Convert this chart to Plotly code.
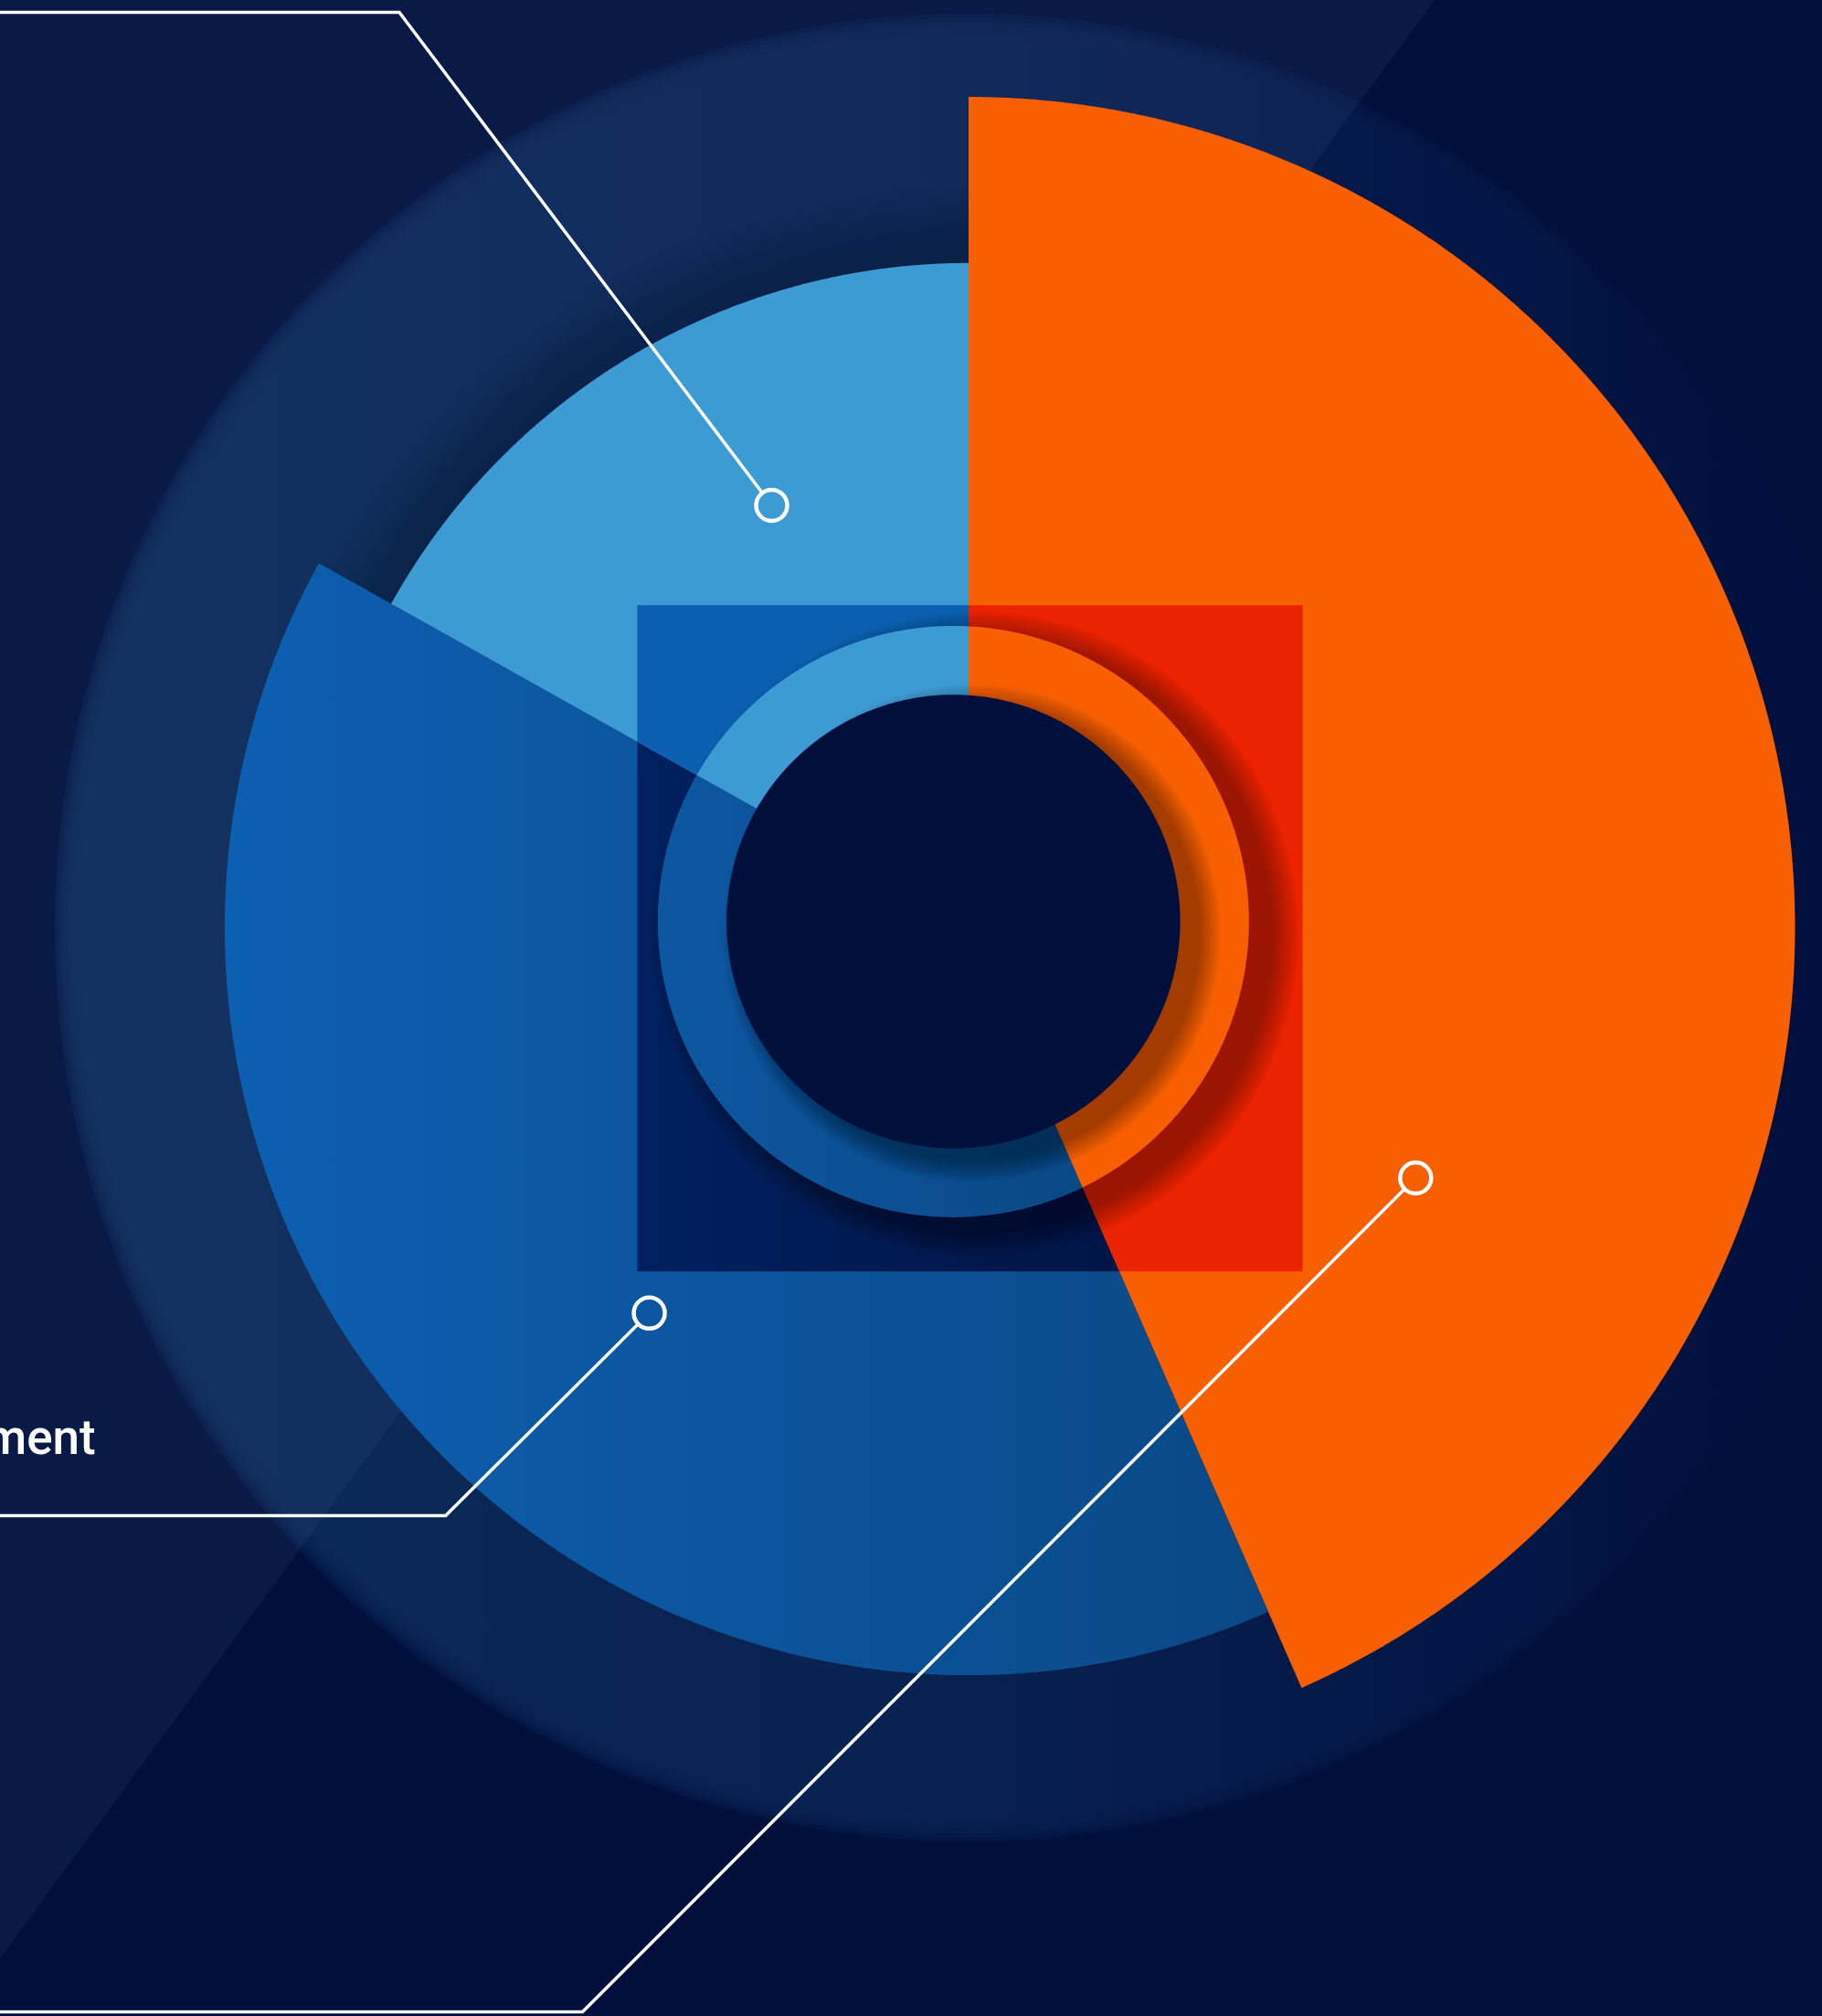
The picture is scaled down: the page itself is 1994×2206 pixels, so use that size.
import numpy as np
import plotly.graph_objects as go

# ---------------- data ----------------
categories = ["Segment 1", "Segment 2", "Segment 3"]   # clockwise from 12 o'clock
shares = [43.4, 39.7, 16.9]        # share of the full circle (%)
lengths = [100, 90, 80]            # radial length of each wedge
callout_label = "ment"

# ---------------- layout / style constants ----------------
W, H = 1994, 2206
CX, CY = 1060.0, 1015.0            # pie centre (px)
SX, SY = 9.045, 9.09               # px per radial unit
RING_CX, RING_CY = 1043.4, 1008.4
RING_R, HOLE_R = 323.5, 248.2
SQ = (697.4, 662.2, 1425.6, 1391.3)
GLOW_R = 982.0
BG = "#000F3B"

wedge_style = [
    dict(color="#F75F00"),
    dict(grad=(245, 1430, "#0D5FB2", "#0A4884")),
    dict(color="#3D9BD3"),
]
square_style = [
    dict(color="#EB2300"),
    dict(grad=(697, 1240, "#00205F", "#001445")),
    dict(color="#0C5FB0"),
]
ring_style = [
    dict(color="#F75F00"),
    dict(grad=(720, 1240, "#0D57A2", "#0A4783")),
    dict(color="#3D9BD3"),
]

callouts = [  # (marker point, elbow point)
    ((844.5, 553.0), (437.0, 13.5)),
    ((710.6, 1436.8), (487.7, 1658.5)),
    ((1549.3, 1289.0), (637.5, 2201.5)),
]
MARK_R = 18.5

# ---------------- geometry helpers ----------------
tot = float(sum(shares))
bounds = np.concatenate([[0.0], np.cumsum(shares)]) / tot * 360.0


def dirs(th):
    t = np.radians(th)
    return SX * np.sin(t), -SY * np.cos(t)


def angle_of(px, py):
    return np.degrees(np.arctan2((px - CX) / SX, -(py - CY) / SY)) % 360


def wedge_poly(a, b, r):
    th = np.linspace(a, b, max(int((b - a) * 6), 3))
    dx, dy = dirs(th)
    return np.r_[CX, CX + r * dx, CX], np.r_[CY, CY + r * dy, CY]


def square_poly(a, b):
    x0, y0, x1, y1 = SQ
    ca = [angle_of(px, py) for px, py in [(x0, y0), (x1, y0), (x1, y1), (x0, y1)]]
    th = np.linspace(a, b, int((b - a) * 4) + 2)
    th = np.unique(np.r_[th, [c for c in ca if a < c < b]])
    dx, dy = dirs(th)
    dxs = np.where(np.abs(dx) < 1e-9, 1e-9, dx)
    dys = np.where(np.abs(dy) < 1e-9, 1e-9, dy)
    tx = np.where(dxs > 0, (x1 - CX) / dxs, (x0 - CX) / dxs)
    ty = np.where(dys > 0, (y1 - CY) / dys, (y0 - CY) / dys)
    t = np.minimum(tx, ty)
    return np.r_[CX, CX + t * dx, CX], np.r_[CY, CY + t * dy, CY]


def disc_poly(a, b, cx, cy, R):
    th = np.linspace(a, b, max(int((b - a) * 5), 3))
    dx, dy = dirs(th)
    px, py = CX - cx, CY - cy
    aa = dx * dx + dy * dy
    bb = dx * px + dy * py
    cc = px * px + py * py - R * R
    t = (-bb + np.sqrt(bb * bb - aa * cc)) / aa
    return np.r_[CX, CX + t * dx, CX], np.r_[CY, CY + t * dy, CY]


def circle(cx, cy, r, n=720):
    t = np.linspace(0, 2 * np.pi, n)
    return cx + r * np.cos(t), cy + r * np.sin(t)


fig = go.Figure()


def add_fill(x, y, style=None, color=None, opacity=1.0):
    kw = dict(x=x, y=y, fill="toself", mode="none", hoverinfo="skip",
              showlegend=False, opacity=opacity)
    if style is not None and "grad" in style:
        s0, s1, c0, c1 = style["grad"]
        kw["fillgradient"] = dict(type="horizontal", start=s0, stop=s1,
                                  colorscale=[[0, c0], [1, c1]])
    else:
        kw["fillcolor"] = color if color is not None else style["color"]
    fig.add_trace(go.Scatter(**kw))


# ---- background glow (soft edged disc with horizontal gradient) ----
n_soft = 10
for i in range(n_soft):
    r = GLOW_R + 18 - 40 * i / (n_soft - 1)
    x, y = circle(CX, CY, r)
    fig.add_trace(go.Scatter(
        x=x, y=y, fill="toself", mode="none", hoverinfo="skip", showlegend=False,
        opacity=0.35,
        fillgradient=dict(type="horizontal", start=60, stop=2000,
                          colorscale=[[0, "#0C2C5A"], [0.5, "#092252"], [1, "#01103E"]])))

# inner darkening of the glow (only visible just outside the shortest wedge)
n_dark = 14
for i in range(n_dark):
    r = 812 - 85 * i / (n_dark - 1)
    x, y = circle(CX, CY, r)
    add_fill(x, y, color="rgb(0,12,45)", opacity=0.045)

# ---- diagonal light band ----
slope = 0.7326
bx = [1570 + slope * 60, -60, -60]
by = [-60, -60, (1570 + 60) / slope]
add_fill(bx, by, color="rgba(70,100,150,0.14)")

# ---- outer wedges ----
for i in range(len(shares)):
    x, y = wedge_poly(bounds[i], bounds[i + 1], lengths[i])
    add_fill(x, y, style=wedge_style[i])

# ---- square overlay, split by the wedges ----
for i in range(len(shares)):
    x, y = square_poly(bounds[i], bounds[i + 1])
    add_fill(x, y, style=square_style[i])

# ---- ring drop shadow ----
n_sh = 12
for i in range(n_sh):
    r = RING_R + 30 * (1 - i / n_sh)
    x, y = circle(RING_CX + 24, RING_CY + 14, r)
    add_fill(x, y, color="black", opacity=0.03)

# ---- ring pieces ----
for i in range(len(shares)):
    x, y = disc_poly(bounds[i], bounds[i + 1], RING_CX, RING_CY, RING_R)
    add_fill(x, y, style=ring_style[i])

# ---- hole shadow ----
for i in range(n_sh):
    r = HOLE_R + 24 * (1 - i / n_sh)
    x, y = circle(RING_CX + 20, RING_CY + 13, r)
    add_fill(x, y, color="black", opacity=0.03)

# ---- hole ----
x, y = circle(RING_CX, RING_CY, HOLE_R)
add_fill(x, y, color="#000F3C")

# ---- callout leader lines ----
mx, my = [], []
for (px, py), (ex, ey) in callouts:
    vx, vy = ex - px, ey - py
    L = np.hypot(vx, vy)
    sx0, sy0 = px + MARK_R * vx / L, py + MARK_R * vy / L
    fig.add_trace(go.Scatter(x=[sx0, ex, -20], y=[sy0, ey, ey], mode="lines",
                             line=dict(color="white", width=3.5), hoverinfo="skip",
                             showlegend=False))
    mx.append(px)
    my.append(py)
fig.add_trace(go.Scatter(x=mx, y=my, mode="markers", hoverinfo="skip", showlegend=False,
                         marker=dict(symbol="circle-open", size=34, color="white",
                                     line=dict(width=4.5, color="white"))))

fig.add_annotation(x=107, y=1573, xref="x", yref="y", text=callout_label,
                   showarrow=False, xanchor="right", yanchor="middle",
                   font=dict(family="Roboto", size=53, color="white", weight=500))

fig.update_layout(
    width=W, height=H, margin=dict(l=0, r=0, t=0, b=0, pad=0),
    paper_bgcolor=BG, plot_bgcolor=BG, hovermode=False, showlegend=False,
    xaxis=dict(range=[0, W], visible=False, fixedrange=True),
    yaxis=dict(range=[H, 0], visible=False, fixedrange=True),
)

fig.write_html("out.html", config={"displayModeBar": False},
               post_script="document.body.style.margin='0';document.body.style.overflow='hidden';")
